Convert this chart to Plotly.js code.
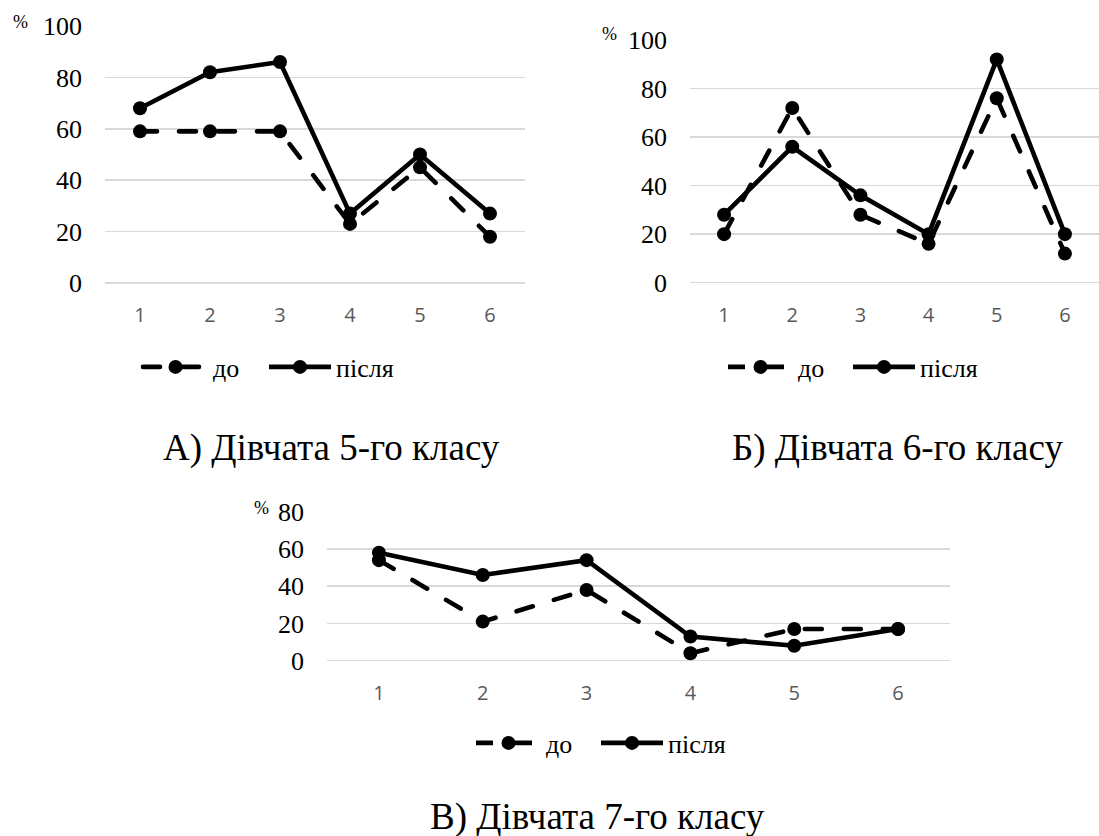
<!DOCTYPE html>
<html><head><meta charset="utf-8">
<script src="https://cdn.plot.ly/plotly-3.0.1.min.js"></script>
<style>
html,body{margin:0;padding:0;background:#fff;overflow:hidden;}
#chart{width:1099px;height:836px;}
.scatterlayer path.js-line, .legend path.js-line {stroke-linecap: round;}
</style></head><body><div id="chart"></div>
<script>
const categories = [1, 2, 3, 4, 5, 6];
const seriesNames = ['до', 'після'];
const girls5Before = [59, 59, 59, 23, 45, 18];
const girls5After = [68, 82, 86, 27, 50, 27];
const girls6Before = [20, 72, 28, 16, 76, 12];
const girls6After = [28, 56, 36, 20, 92, 20];
const girls7Before = [54, 21, 38, 4, 17, 17];
const girls7After = [58, 46, 54, 13, 8, 17];
const panelTitles = ['А) Дівчата 5-го класу', 'Б) Дівчата 6-го класу', 'В) Дівчата 7-го класу'];
const unitLabel = '%';

const W = 1099, H = 836;
const px = v => v / W;
const py = v => 1 - v / H;

const panels = [
  {before: girls5Before, after: girls5After, suffix: '', yMax: 100},
  {before: girls6Before, after: girls6After, suffix: '2', yMax: 100},
  {before: girls7Before, after: girls7After, suffix: '3', yMax: 80}
];

const legendIds = ['legend', 'legend2', 'legend3', 'legend4', 'legend5', 'legend6'];
const traces = [];
panels.forEach((p, i) => {
  const common = {
    x: categories, type: 'scatter', mode: 'lines+markers', showlegend: true,
    xaxis: 'x' + p.suffix, yaxis: 'y' + p.suffix, cliponaxis: false,
    marker: {size: 14, color: '#000'}
  };
  traces.push(Object.assign({}, common, {
    y: p.before, name: seriesNames[0], legend: legendIds[2 * i],
    line: {color: '#000', width: 4.6, dash: '17px,22px'}
  }));
  traces.push(Object.assign({}, common, {
    y: p.after, name: seriesNames[1], legend: legendIds[2 * i + 1],
    line: {color: '#000', width: 4.6}
  }));
});

const serif = 'Liberation Serif, Times New Roman, serif';
const xFont = {family: 'Open Sans', size: 20, color: '#595959'};
const yFont = {family: serif, size: 26, color: '#000'};
function xAx(d0, d1, anchor) {
  return {domain: [px(d0), px(d1)], range: [0.5, 6.5], tickvals: categories,
    showgrid: false, zeroline: false, showline: false, ticks: '',
    tickfont: xFont, ticklabelstandoff: 18, anchor: anchor, fixedrange: true, automargin: false};
}
function yAx(top, bottom, yMax, anchor) {
  return {domain: [py(bottom), py(top)], range: [0, yMax], dtick: 20,
    gridcolor: '#d9d9d9', gridwidth: 1.5, zeroline: true, zerolinecolor: '#d9d9d9', zerolinewidth: 1.5,
    showline: false, ticks: '', tickfont: yFont, ticklabelstandoff: 22, anchor: anchor, fixedrange: true, automargin: false};
}
function leg(x, y, w) {
  return {visible: true, orientation: 'h', x: px(x), xanchor: 'left', y: py(y), yanchor: 'middle',
    font: {family: serif, size: 26, color: '#000'}, itemwidth: w,
    bgcolor: 'rgba(0,0,0,0)', borderwidth: 0, itemclick: false, itemdoubleclick: false};
}

const titleFont = {family: serif, size: 37, color: '#000'};
const pctFont = {family: serif, size: 18, color: '#000'};
function ann(text, x, y, font) {
  return {text: text, x: px(x), y: py(y), xref: 'paper', yref: 'paper',
    xanchor: 'center', yanchor: 'middle', showarrow: false, font: font};
}

const layout = {
  width: W, height: H, margin: {l: 0, r: 0, t: 0, b: 0, autoexpand: false},
  showlegend: true,
  font: {family: serif, color: '#000'},
  paper_bgcolor: '#fff', plot_bgcolor: '#fff',
  xaxis: xAx(105, 525, 'y'), yaxis: yAx(26, 283, panels[0].yMax, 'x'),
  xaxis2: xAx(690, 1099, 'y2'), yaxis2: yAx(40, 282.7, panels[1].yMax, 'x2'),
  xaxis3: xAx(327, 950, 'y3'), yaxis3: yAx(511.7, 660.7, panels[2].yMax, 'x3'),
  legend: leg(138, 367, 65), legend2: leg(264, 367, 62),
  legend3: leg(723, 367, 65), legend4: leg(848, 367, 62),
  legend5: leg(471, 743, 65), legend6: leg(596, 743, 62),
  annotations: [
    ann(panelTitles[0], 331, 448, titleFont),
    ann(panelTitles[1], 897, 448, titleFont),
    ann(panelTitles[2], 597, 817, titleFont),
    ann(unitLabel, 20, 22, pctFont),
    ann(unitLabel, 609, 34, pctFont),
    ann(unitLabel, 261, 508, pctFont)
  ]
};

Plotly.newPlot('chart', traces, layout, {displayModeBar: false, staticPlot: true});
</script></body></html>
